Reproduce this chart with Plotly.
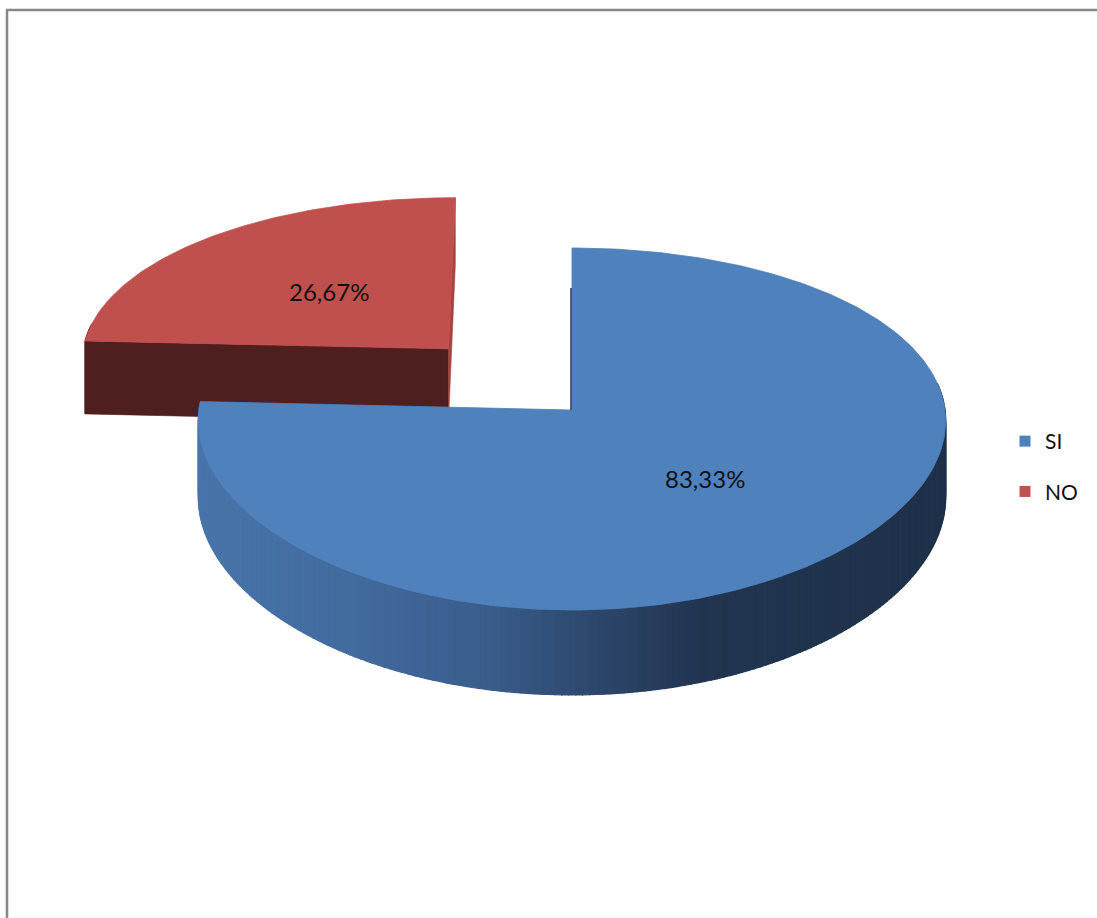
import numpy as np
import plotly.graph_objects as go

# ---- data ----
categories = ["SI", "NO"]
values = [83.33, 26.67]
label_text = ["83,33%", "26,67%"]
top_colors = ["#4F81BD", "#C0504D"]
side_dark = ["#1F3049", "#4F1E1E"]
pulls = [0.0, 0.49]

# ---- projection of the 3-D pie (unit-radius disk) ----
W, H = 1097, 918
CX, CY = 572, 410
A, B = 373, 179
KX, KY = 0.06, 0.105
DEPTH = 76
VIEW_D = 1.0 / KY


def proj(u, v, z=0.0):
    u = np.asarray(u, float)
    v = np.asarray(v, float)
    sx = 1.0 / (1.0 + KX * v)
    sy = 1.0 / (1.0 + KY * v)
    return CX + A * u * sx, CY - B * v * sy + z * DEPTH * sy


def hex2rgb(h):
    h = h.lstrip("#")
    return np.array([int(h[i:i + 2], 16) for i in (0, 2, 4)], float)


def mix(c1, c2, t):
    a, b = hex2rgb(c1), hex2rgb(c2)
    c = a + (b - a) * t
    return "rgb(%d,%d,%d)" % tuple(int(round(x)) for x in c)


SI_STOPS = [(200, "#4874AB"), (350, "#426B9D"), (480, "#3A5E8D"),
            (600, "#2C466A"), (700, "#213550"), (960, "#1F3049")]


def si_side_color(x):
    xs = [s[0] for s in SI_STOPS]
    cols = np.array([hex2rgb(s[1]) for s in SI_STOPS])
    rgb = [np.interp(x, xs, cols[:, k]) for k in range(3)]
    return "rgb(%d,%d,%d)" % tuple(int(round(c)) for c in rgb)


total = float(sum(values))
fracs = [v / total for v in values]
slices = []
start = 90.0
for i, f in enumerate(fracs):
    a0 = start
    a1 = start - f * 360.0
    mid = np.radians((a0 + a1) / 2.0)
    u0 = pulls[i] * np.cos(mid)
    v0 = pulls[i] * np.sin(mid)
    slices.append(dict(a0=a0, a1=a1, mid=mid, u0=u0, v0=v0))
    start = a1

fig = go.Figure()


def poly(xs, ys, color, lw=0.8):
    fig.add_trace(go.Scatter(
        x=list(xs) + [xs[0]], y=list(ys) + [ys[0]], mode="lines",
        fill="toself", fillcolor=color,
        line=dict(color=color, width=lw),
        hoverinfo="skip", showlegend=False))


# draw back slice (NO) first, then front slice (SI)
order = [1, 0]
for i in order:
    s = slices[i]
    u0, v0 = s["u0"], s["v0"]
    # outer side strips
    n_strips = max(4, int(abs(s["a0"] - s["a1"]) / 1.0))
    th = np.radians(np.linspace(s["a0"], s["a1"], n_strips + 1))
    for k in range(n_strips):
        t = th[k:k + 2]
        uu = u0 + np.cos(t)
        vv = v0 + np.sin(t)
        if np.mean(np.sin(t)) > 0.15:
            continue  # back-facing, hidden under the top face
        xt, yt = proj(uu, vv, 0)
        xb, yb = proj(uu, vv, 1)
        xs = [xt[0], xt[1], xb[1], xb[0]]
        ys = [yt[0], yt[1], yb[1], yb[0]]
        col = si_side_color(np.mean(xs)) if i == 0 else side_dark[i]
        poly(xs, ys, col, 1.2)
    # radial faces that face the viewer
    for a, sign in ((s["a0"], 1.0), (s["a1"], -1.0)):
        t = np.radians(a)
        n = sign * np.array([-np.sin(t), np.cos(t)])
        p = np.array([u0 + 0.5 * np.cos(t), v0 + 0.5 * np.sin(t)])
        to_eye = np.array([0.0, -VIEW_D]) - p
        facing = float(n @ to_eye) / np.linalg.norm(to_eye)
        if facing <= 0.01:
            continue
        col = side_dark[i] if abs(n[1]) > 0.7 else mix(top_colors[i], side_dark[i], 0.25)
        xa, ya = proj(u0, v0, 0)
        xab, yab = proj(u0, v0, 1)
        xr, yr = proj(u0 + np.cos(t), v0 + np.sin(t), 0)
        xrb, yrb = proj(u0 + np.cos(t), v0 + np.sin(t), 1)
        poly([float(xa), float(xr), float(xrb), float(xab)],
             [float(ya), float(yr), float(yrb), float(yab)], col, 0.6)
    # top face
    th = np.radians(np.linspace(s["a0"], s["a1"], int(abs(s["a0"] - s["a1"])) + 2))
    xr, yr = proj(u0 + np.cos(th), v0 + np.sin(th), 0)
    xa, ya = proj(u0, v0, 0)
    poly([float(xa)] + list(xr), [float(ya)] + list(yr), top_colors[i], 0.8)

# thin shadow along the inner edge of the big slice
s = slices[0]
t = np.radians(s["a0"])
xa, ya = proj(s["u0"], s["v0"], 0)
xr, yr = proj(s["u0"] + np.cos(t), s["v0"] + np.sin(t), 0)
fig.add_trace(go.Scatter(x=[float(xr) - 1, float(xa) - 1], y=[float(yr) + 40, float(ya)],
                         mode="lines", line=dict(color="#1F3049", width=1.5),
                         hoverinfo="skip", showlegend=False))

# data labels
for i, s in enumerate(slices):
    r = 0.5
    lx, ly = proj(s["u0"] + r * np.cos(s["mid"]), s["v0"] + r * np.sin(s["mid"]), 0)
    fig.add_annotation(x=float(lx) + 1, y=float(ly) + 1, text=label_text[i], showarrow=False,
                       font=dict(family="Lato", size=24, color="#111111"),
                       xanchor="center", yanchor="middle")

# legend entries
for i, c in enumerate(categories):
    fig.add_trace(go.Scatter(x=[None], y=[None], mode="markers", name=c,
                             legendgroup=c,
                             marker=dict(symbol="square", size=11, color=top_colors[i])))

fig.update_layout(
    width=W, height=H,
    margin=dict(l=0, r=0, t=0, b=0),
    paper_bgcolor="white", plot_bgcolor="white",
    xaxis=dict(range=[0, W], visible=False, fixedrange=True),
    yaxis=dict(range=[H, 0], visible=False, fixedrange=True),
    showlegend=True,
    legend=dict(x=1005 / W, y=1 - 421 / H, xanchor="left", yanchor="top",
                font=dict(family="Lato", size=21, color="#111111"),
                tracegroupgap=20, bgcolor="rgba(0,0,0,0)"),
    shapes=[dict(type="rect", xref="paper", yref="paper",
                 x0=7 / W, x1=1.05, y0=-0.05, y1=1 - 10 / H,
                 line=dict(color="#888888", width=2.5))],
)

fig.write_html("out.html", config={"displayModeBar": False},
               post_script="document.body.style.margin='0';")
